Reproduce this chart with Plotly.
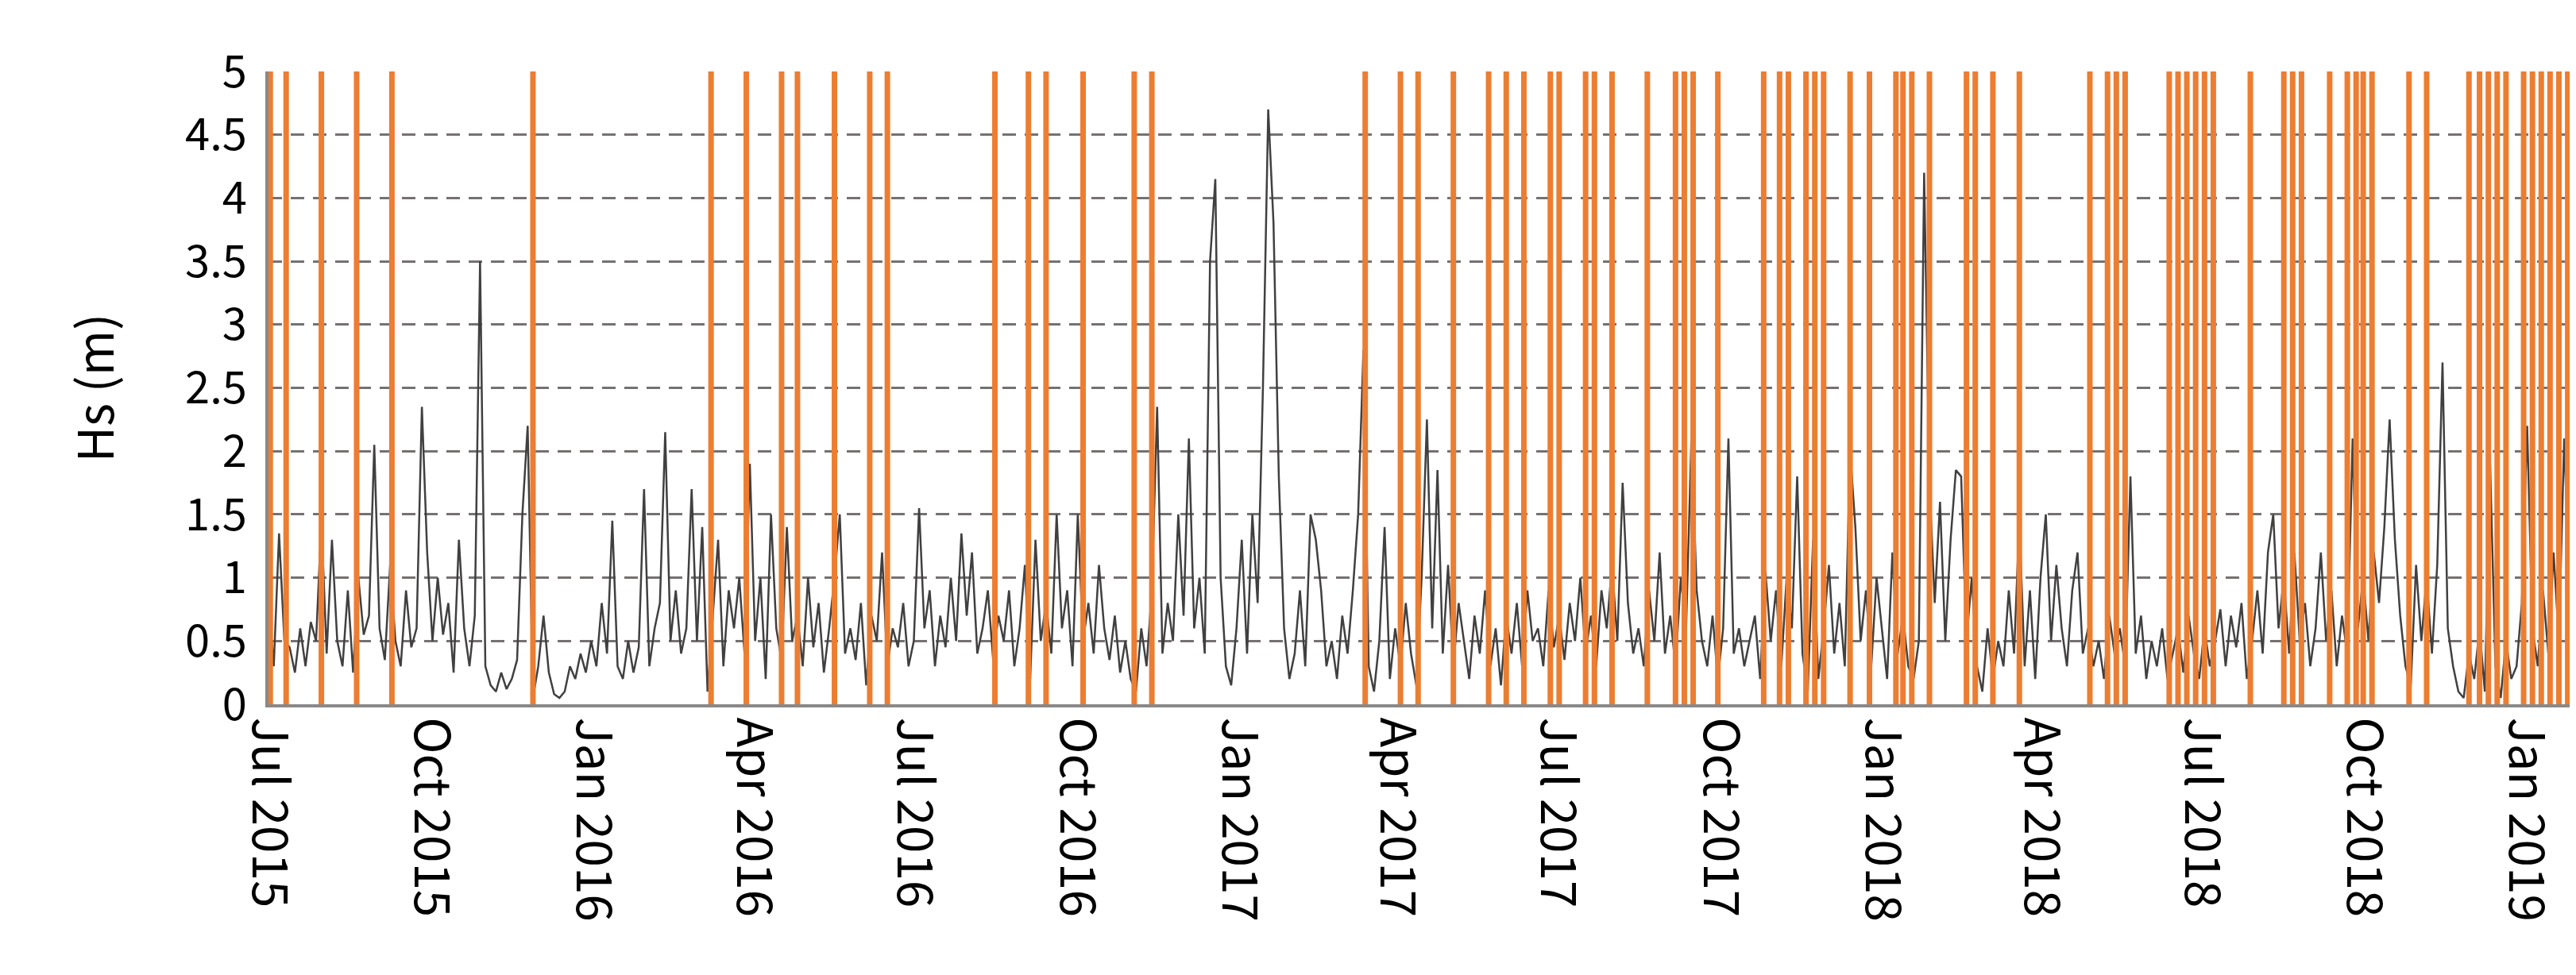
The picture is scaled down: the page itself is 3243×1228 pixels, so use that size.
import plotly.graph_objects as go
import pandas as pd

start = pd.Timestamp("2015-07-01")

# Hs (m), one value every 3 days from 1 Jul 2015 (rows of 30 days)
hs = [
    0.8, 0.3, 1.35, 0.5, 0.45, 0.25, 0.6, 0.3, 0.65, 0.5,
    1.45, 0.4, 1.3, 0.5, 0.3, 0.9, 0.25, 1.0, 0.55, 0.7,
    2.05, 0.6, 0.35, 1.1, 0.5, 0.3, 0.9, 0.45, 0.6, 2.35,
    1.2, 0.5, 1.0, 0.55, 0.8, 0.25, 1.3, 0.6, 0.3, 0.7,
    3.5, 0.3, 0.15, 0.1, 0.25, 0.12, 0.2, 0.35, 1.5, 2.2,
    0.05, 0.3, 0.7, 0.25, 0.08, 0.05, 0.1, 0.3, 0.2, 0.4,
    0.25, 0.5, 0.3, 0.8, 0.4, 1.45, 0.3, 0.2, 0.5, 0.25,
    0.45, 1.7, 0.3, 0.6, 0.8, 2.15, 0.5, 0.9, 0.4, 0.6,
    1.7, 0.5, 1.4, 0.1, 0.7, 1.3, 0.3, 0.9, 0.6, 1.0,
    0.4, 1.9, 0.5, 1.0, 0.2, 1.5, 0.6, 0.35, 1.4, 0.5,
    0.7, 0.3, 1.0, 0.45, 0.8, 0.25, 0.6, 1.0, 1.5, 0.4,
    0.6, 0.35, 0.8, 0.15, 0.7, 0.5, 1.2, 0.3, 0.6, 0.45,
    0.8, 0.3, 0.5, 1.55, 0.6, 0.9, 0.3, 0.7, 0.45, 1.0,
    0.5, 1.35, 0.7, 1.2, 0.4, 0.6, 0.9, 0.35, 0.7, 0.5,
    0.9, 0.3, 0.6, 1.1, 0.2, 1.3, 0.5, 0.8, 0.4, 1.5,
    0.6, 0.9, 0.3, 1.5, 0.5, 0.8, 0.4, 1.1, 0.6, 0.35,
    0.7, 0.25, 0.5, 0.2, 0.1, 0.6, 0.3, 0.9, 2.35, 0.4,
    0.8, 0.5, 1.5, 0.7, 2.1, 0.6, 1.0, 0.4, 3.5, 4.15,
    1.0, 0.3, 0.15, 0.6, 1.3, 0.4, 1.5, 0.8, 2.5, 4.7,
    3.8, 1.8, 0.6, 0.2, 0.4, 0.9, 0.3, 1.5, 1.3, 0.9,
    0.3, 0.5, 0.2, 0.7, 0.4, 0.9, 1.5, 2.8, 0.3, 0.1,
    0.5, 1.4, 0.2, 0.6, 0.3, 0.8, 0.4, 0.15, 1.0, 2.25,
    0.6, 1.85, 0.4, 1.1, 0.3, 0.8, 0.5, 0.2, 0.7, 0.4,
    0.9, 0.3, 0.6, 0.15, 0.7, 0.4, 0.8, 0.3, 0.9, 0.5,
    0.6, 0.3, 0.9, 0.45, 0.7, 0.35, 0.8, 0.5, 1.0, 0.4,
    0.7, 0.3, 0.9, 0.6, 1.1, 0.5, 1.75, 0.8, 0.4, 0.6,
    0.3, 0.9, 0.5, 1.2, 0.4, 0.7, 0.3, 1.0, 0.6, 2.1,
    0.9, 0.5, 0.3, 0.7, 0.2, 0.6, 2.1, 0.4, 0.6, 0.3,
    0.5, 0.7, 0.2, 1.05, 0.5, 0.9, 0.3, 1.0, 0.6, 1.8,
    0.4, 0.1, 1.3, 0.2, 0.6, 1.1, 0.4, 0.8, 0.3, 2.0,
    1.4, 0.5, 0.9, 0.3, 1.0, 0.6, 0.2, 1.2, 0.4, 0.7,
    0.3, 0.2, 0.5, 4.2, 1.75, 0.8, 1.6, 0.5, 1.3, 1.85,
    1.8, 0.5, 1.0, 0.3, 0.1, 0.6, 0.2, 0.5, 0.3, 0.9,
    0.4, 1.45, 0.3, 0.9, 0.2, 1.0, 1.5, 0.5, 1.1, 0.6,
    0.3, 0.9, 1.2, 0.4, 0.6, 0.3, 0.5, 0.2, 0.7, 0.4,
    0.6, 0.3, 1.8, 0.4, 0.7, 0.2, 0.5, 0.3, 0.6, 0.2,
    0.4, 0.6, 0.25, 0.7, 0.4, 0.2, 0.6, 0.3, 0.5, 0.75,
    0.3, 0.7, 0.45, 0.8, 0.2, 0.5, 0.9, 0.4, 1.2, 1.5,
    0.6, 1.0, 0.4, 1.2, 0.5, 0.8, 0.3, 0.6, 1.2, 0.5,
    0.9, 0.3, 0.7, 0.4, 2.1, 0.6, 1.0, 0.5, 1.2, 0.8,
    1.4, 2.25, 1.3, 0.7, 0.3, 0.15, 1.1, 0.5, 1.0, 0.4,
    1.1, 2.7, 0.6, 0.3, 0.1, 0.05, 0.4, 0.2, 0.6, 0.1,
    1.9, 0.3, 0.05, 0.5, 0.2, 0.3, 0.8, 2.2, 0.6, 0.3,
    0.9, 0.4, 1.2, 0.5, 2.1, 0.9,
]
hs_dates = [start + pd.Timedelta(days=3 * i) for i in range(len(hs))]

# event markers, days after 1 Jul 2015
event_days = [
    1, 10, 30, 50, 70, 150, 251, 271, 291, 300, 321, 341, 351, 412, 431, 441,
    462, 491, 501, 622, 642, 652, 672, 692, 702, 712, 727, 732, 747, 752, 762,
    782, 798, 803, 808, 822, 848, 857, 862, 872, 877, 882, 897, 908, 923, 927,
    932, 942, 963, 968, 978, 993, 1033, 1043, 1048, 1053, 1078, 1083, 1088,
    1093, 1098, 1103, 1124, 1143, 1148, 1153, 1169, 1179, 1184, 1188, 1193,
    1214, 1224, 1248, 1254, 1259, 1264, 1269, 1279, 1284, 1289, 1294, 1299, 1304,
]

tick_dates = ["2015-07-01", "2015-10-01", "2016-01-01", "2016-04-01", "2016-07-01",
              "2016-10-01", "2017-01-01", "2017-04-01", "2017-07-01", "2017-10-01",
              "2018-01-01", "2018-04-01", "2018-07-01", "2018-10-01", "2019-01-01"]
tick_text = [pd.Timestamp(d).strftime("%b %Y") for d in tick_dates]

ex, ey = [], []
for d in event_days:
    t = start + pd.Timedelta(days=d)
    ex += [t, t, None]
    ey += [0, 5, None]

fig = go.Figure()
fig.add_trace(go.Scatter(x=hs_dates, y=hs, mode="lines",
                         line=dict(color="#404040", width=2.5)))
fig.add_trace(go.Scatter(x=ex, y=ey, mode="lines",
                         line=dict(color="#ED7D31", width=7)))

font = "Noto Sans CJK SC"
fig.update_layout(
    width=3243, height=1228, showlegend=False,
    plot_bgcolor="white", paper_bgcolor="white",
    margin=dict(l=330, r=14, t=82, b=349),
    font=dict(family=font, size=62, color="black"),
    xaxis=dict(range=[start, start + pd.Timedelta(days=1306)],
               tickvals=tick_dates, ticktext=tick_text, tickangle=90,
               showgrid=False, showline=True, linecolor="#898989", linewidth=4,
               ticks="", tickfont=dict(size=62)),
    yaxis=dict(range=[0, 5], dtick=0.5, showgrid=True, gridcolor="#767171",
               griddash="17px,11px", gridwidth=3, zeroline=False,
               showline=True, linecolor="#898989", linewidth=4,
               ticklabelstandoff=12,
               title=dict(text="Hs (m)", font=dict(size=62), standoff=70),
               tickfont=dict(size=56)),
)
fig.write_html("out.html")
